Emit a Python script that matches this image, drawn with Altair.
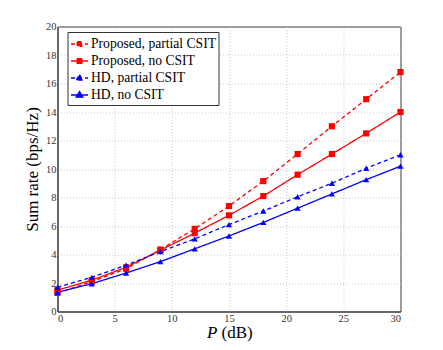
import altair as alt
import pandas as pd

P = [0, 3, 6, 9, 12, 15, 18, 21, 24, 27, 30]
series_names = ["Proposed, partial CSIT", "Proposed, no CSIT", "HD, partial CSIT", "HD, no CSIT"]
prop_partial = [1.3, 2.1, 3.0, 4.35, 5.8, 7.4, 9.15, 11.05, 13.0, 14.9, 16.8]
prop_no = [1.5, 2.2, 3.1, 4.3, 5.5, 6.75, 8.1, 9.6, 11.05, 12.5, 14.0]
hd_partial = [1.7, 2.4, 3.25, 4.2, 5.1, 6.1, 7.05, 8.05, 9.0, 10.05, 11.0]
hd_no = [1.35, 1.95, 2.7, 3.5, 4.4, 5.3, 6.25, 7.25, 8.25, 9.25, 10.2]
x_ticks = [0, 5, 10, 15, 20, 25, 30]
y_ticks = [0, 2, 4, 6, 8, 10, 12, 14, 16, 18, 20]

colors = ["#ff0000", "#ff0000", "#0000ff", "#0000ff"]
dashes = [[4, 3], [1, 0], [4, 3], [1, 0]]
shapes = ["square", "square", "triangle-up", "triangle-up"]
marker_sizes = [38, 38, 78, 78]
sq = "M-1,0H1M-0.27,-0.27H0.27V0.27H-0.27Z"
tri = "M-1,0H1M0,-0.4L0.4,0.26H-0.4Z"
legend_shapes = [sq, sq, tri, tri]

rows = []
for name, vals in zip(series_names, [prop_partial, prop_no, hd_partial, hd_no]):
    for p, v in zip(P, vals):
        rows.append({"P": p, "rate": v, "series": name})
df = pd.DataFrame(rows)

FONT = "Liberation Serif"

x = alt.X("P:Q", scale=alt.Scale(domain=[0, 30], nice=False),
          axis=alt.Axis(values=x_ticks, title=None, grid=True))
y = alt.Y("rate:Q", scale=alt.Scale(domain=[0, 20], nice=False),
          axis=alt.Axis(values=y_ticks, title="Sum rate (bps/Hz)", grid=True))

base = alt.Chart(df)

lines = base.mark_line(strokeWidth=1.3).encode(
    x=x, y=y,
    color=alt.Color("series:N", scale=alt.Scale(domain=series_names, range=colors), legend=None),
    strokeDash=alt.StrokeDash("series:N", scale=alt.Scale(domain=series_names, range=dashes), legend=None),
    detail="series:N",
)

points = base.mark_point(filled=True, opacity=1).encode(
    x=x, y=y,
    color=alt.Color("series:N", scale=alt.Scale(domain=series_names, range=colors), legend=None),
    shape=alt.Shape("series:N", scale=alt.Scale(domain=series_names, range=shapes), legend=None),
    size=alt.Size("series:N", scale=alt.Scale(domain=series_names, range=marker_sizes), legend=None),
)

leg = base.transform_filter(alt.datum.P < -100).mark_point(filled=True, strokeWidth=1.3, opacity=1).encode(
    x=x, y=y,
    fill=alt.Fill("series:N", scale=alt.Scale(domain=series_names, range=colors), title=None),
    stroke=alt.Stroke("series:N", scale=alt.Scale(domain=series_names, range=colors), title=None),
    shape=alt.Shape("series:N", scale=alt.Scale(domain=series_names, range=legend_shapes), title=None),
    strokeDash=alt.StrokeDash("series:N", scale=alt.Scale(domain=series_names, range=dashes), title=None),
)

title_p = alt.Chart(pd.DataFrame({"t": ["P"]})).mark_text(
    font=FONT, fontSize=17, fontStyle="italic", align="right", baseline="alphabetic", color="black"
).encode(text="t:N", x=alt.value(160), y=alt.value(311.5))

title_db = alt.Chart(pd.DataFrame({"t": ["(dB)"]})).mark_text(
    font=FONT, fontSize=17, align="left", baseline="alphabetic", color="black"
).encode(text="t:N", x=alt.value(164), y=alt.value(311.5))

chart = alt.layer(lines, points, leg, title_p, title_db).resolve_scale(
    shape="independent", strokeDash="independent", fill="independent", stroke="independent"
).properties(
    width=343, height=285,
    autosize=alt.AutoSizeParams(type="none"),
    padding={"left": 49.5, "top": 18.5, "right": 25, "bottom": 30},
).configure_view(
    stroke="#333", strokeWidth=1
).configure_axis(
    labelFont=FONT, labelFontSize=10.5, labelColor="#333",
    titleFont=FONT, titleFontSize=17, titleColor="black", titleFontWeight="normal",
    ticks=False, labelPadding=1.5, titlePadding=4,
    domainColor="#333", domainWidth=1,
    gridColor="#bbb", gridDash=[1, 2], gridWidth=0.8,
).configure_legend(
    orient="none", legendX=10, legendY=5.5,
    fillColor="white", strokeColor="#333", padding=2.5, rowPadding=0,
    symbolSize=289, symbolStrokeWidth=1.3,
    labelFont=FONT, labelFontSize=13.6, labelColor="black", labelOffset=2,
)

chart.save("out.html", embed_options={"renderer": "svg", "actions": False})
